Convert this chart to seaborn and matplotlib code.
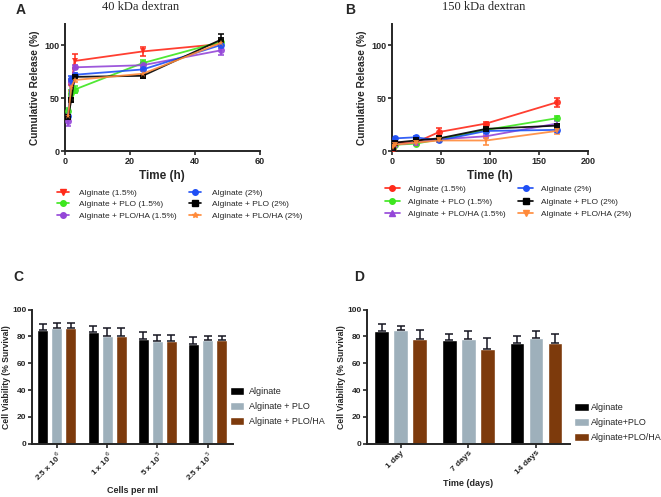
import numpy as np
import pandas as pd
import matplotlib
matplotlib.use('Agg')
import matplotlib.pyplot as plt
import seaborn as sns
from matplotlib.lines import Line2D
from matplotlib.patches import Patch

# ==============================================================================
# DATA
# ==============================================================================
series_names = ['Alginate (1.5%)', 'Alginate + PLO (1.5%)', 'Alginate + PLO/HA (1.5%)',
                'Alginate (2%)', 'Alginate + PLO (2%)', 'Alginate + PLO/HA (2%)']
series_colors = ['#ff2a1a', '#3de61e', '#9446d8', '#1f4ff5', '#000000', '#ff8a3a']

# panel A: 40 kDa dextran
time_a = [1, 2, 3, 24, 48]
rel_a = {
    'Alginate (1.5%)':          [32, 60, 85, 94, 101],
    'Alginate + PLO (1.5%)':    [38, 55, 58, 83, 103],
    'Alginate + PLO/HA (1.5%)': [28, 65, 79, 81, 95],
    'Alginate (2%)':            [33, 68, 72, 77, 100],
    'Alginate + PLO (2%)':      [32, 48, 70, 71, 105],
    'Alginate + PLO/HA (2%)':   [33, 60, 67, 73, 102],
}
err_a = {
    'Alginate (1.5%)':          [3, 6, 7, 4, 2],
    'Alginate + PLO (1.5%)':    [3, 3, 3, 3, 2],
    'Alginate + PLO/HA (1.5%)': [4, 3, 2, 3, 4],
    'Alginate (2%)':            [3, 3, 2, 6, 3],
    'Alginate + PLO (2%)':      [2, 2, 2, 2, 5],
    'Alginate + PLO/HA (2%)':   [2, 3, 2, 3, 3],
}
markers_a = ['v', 'o', 'o', 'o', 's', '*']

# panel B: 150 kDa dextran
time_b = [1, 3, 24, 48, 96, 168]
rel_b = {
    'Alginate (1.5%)':          [3, 8, 8, 18, 26, 46],
    'Alginate + PLO (1.5%)':    [4, 6, 7, 11, 20, 31],
    'Alginate + PLO/HA (1.5%)': [3, 6, 8, 11, 14, 26],
    'Alginate (2%)':            [9, 12, 13, 10, 19, 20],
    'Alginate + PLO (2%)':      [3, 8, 10, 12, 21, 24],
    'Alginate + PLO/HA (2%)':   [4, 6, 8, 10, 10, 19],
}
err_b = {
    'Alginate (1.5%)':          [1, 1, 1, 4, 1, 4],
    'Alginate + PLO (1.5%)':    [1, 1, 1, 1, 1, 2],
    'Alginate + PLO/HA (1.5%)': [1, 1, 1, 1, 1, 2],
    'Alginate (2%)':            [1, 1, 1, 1, 2, 2],
    'Alginate + PLO (2%)':      [1, 1, 1, 1, 1, 2],
    'Alginate + PLO/HA (2%)':   [1, 1, 1, 1, 4, 3],
}
markers_b = ['o', 'o', '^', 'o', 's', 'v']

# panel C: viability vs cell density
cells_c = ['2.5 x 10$^6$', '1 x 10$^6$', '5 x 10$^5$', '2.5 x 10$^5$']
groups_c = ['Alginate', 'Alginate + PLO', 'Alginate + PLO/HA']
via_c = [[85, 83.5, 78, 74.5],
         [86, 80, 76.5, 77],
         [86, 80, 76.5, 77]]
err_c = [[4.5, 4, 5, 5],
         [4, 6, 4.5, 3],
         [4, 6, 4.5, 3]]

# panel D: viability vs time
days_d = ['1 day', '7 days', '14 days']
groups_d = ['Alginate', 'Alginate+PLO', 'Alginate+PLO/HA']
via_d = [[84, 77, 75],
         [84.5, 78, 79],
         [78, 70.5, 75]]
err_d = [[5, 4.5, 5.5],
         [3, 6, 5],
         [6.5, 8, 7]]

bar_colors = ['#000000', '#9eb0bb', '#7d3a0c']

# ==============================================================================
# STYLE
# ==============================================================================
sns.set_style('ticks')
plt.rcParams['font.family'] = ['Liberation Sans', 'DejaVu Sans']
plt.rcParams['axes.linewidth'] = 1.4

fig = plt.figure(figsize=(6.61, 4.97), dpi=100)


def linea(ax, times, rel, err, markers, xmax, xticks):
    filas = []
    for nombre in series_names:
        for t, v in zip(times, rel[nombre]):
            filas.append({'time': t, 'release': v, 'series': nombre})
    df = pd.DataFrame(filas)
    pal = dict(zip(series_names, series_colors))
    mk = dict(zip(series_names, markers))
    for i, nombre in enumerate(series_names):
        ax.errorbar(times, rel[nombre], yerr=err[nombre], fmt='none',
                    ecolor=series_colors[i], elinewidth=1.1, capsize=2.5, capthick=1.1, zorder=2)
    sns.lineplot(data=df, x='time', y='release', hue='series', style='series',
                 palette=pal, markers=mk, dashes=False, ax=ax, legend=False,
                 linewidth=1.3, markersize=5, markeredgewidth=0, alpha=0.9, zorder=3)
    ax.set_xlim(0, xmax)
    ax.set_ylim(0, 120)
    ax.set_xticks(xticks)
    ax.set_yticks([0, 50, 100])
    ax.set_xlabel('Time (h)', fontsize=8.5, fontweight='bold', labelpad=3)
    ax.set_ylabel('Cumulative Release (%)', fontsize=7.3, fontweight='bold', labelpad=3)
    ax.tick_params(labelsize=6.5, width=1.2, length=3, pad=1)
    for lbl in ax.get_xticklabels() + ax.get_yticklabels():
        lbl.set_fontweight('bold')
    sns.despine(ax=ax)
    handles = [Line2D([0], [0], color=c, marker=m, markersize=4, linewidth=1.2)
               for c, m in zip(series_colors, markers)]
    return handles


def barras(ax, cats, groups, vals, errs, xlabel):
    filas = []
    for g, fila in zip(groups, vals):
        for c, v in zip(cats, fila):
            filas.append({'cat': c, 'val': v, 'grupo': g})
    df = pd.DataFrame(filas)
    sns.barplot(data=df, x='cat', y='val', hue='grupo', palette=bar_colors,
                errorbar=None, width=0.84, gap=0.22, ax=ax, legend=False, saturation=1)
    # barras de error (solo hacia arriba)
    n = len(cats)
    contenedores = list(ax.containers)
    for gi, patches in enumerate(contenedores):
        xs = [p.get_x() + p.get_width() / 2 for p in patches]
        ys = [p.get_height() for p in patches]
        e = errs[gi]
        ax.errorbar(xs, ys, yerr=[np.zeros(n), e], fmt='none', ecolor='#151520',
                    elinewidth=1.1, capsize=3, capthick=1.1)
    ax.set_ylim(0, 100)
    ax.set_yticks([0, 20, 40, 60, 80, 100])
    ax.set_xlim(-0.5, n - 0.5)
    ax.set_xlabel(xlabel, fontsize=6.5, fontweight='bold', labelpad=2)
    ax.set_ylabel('Cell Viability (% Survival)', fontsize=6.2, fontweight='bold', labelpad=0.5)
    ax.tick_params(labelsize=6, width=1.2, length=3, pad=1)
    for lbl in ax.get_yticklabels():
        lbl.set_fontweight('bold')
    for lbl in ax.get_xticklabels():
        lbl.set_fontweight('bold')
        lbl.set_rotation(45)
        lbl.set_ha('right')
        lbl.set_rotation_mode('anchor')
    sns.despine(ax=ax)
    return [Patch(facecolor=c) for c in bar_colors]


# ==============================================================================
# PANELS
# ==============================================================================
ax_a = fig.add_axes([0.098, 0.696, 0.295, 0.256])
h_a = linea(ax_a, time_a, rel_a, err_a, markers_a, 60, [0, 20, 40, 60])
ax_b = fig.add_axes([0.593, 0.696, 0.297, 0.256])
h_b = linea(ax_b, time_b, rel_b, err_b, markers_b, 200, [0, 50, 100, 150, 200])

fig.text(0.212, 0.986, '40 kDa dextran', fontsize=9, family='Liberation Serif', ha='center', va='center')
fig.text(0.731, 0.986, '150 kDa dextran', fontsize=9, family='Liberation Serif', ha='center', va='center')

fig.legend(h_a, series_names, loc='upper left', bbox_to_anchor=(0.086, 0.62), ncol=2,
           frameon=False, fontsize=6, handlelength=1.4, columnspacing=1.5,
           labelspacing=0.45, handletextpad=1.3, borderpad=0, borderaxespad=0)
fig.legend(h_b, series_names, loc='upper left', bbox_to_anchor=(0.582, 0.628), ncol=2,
           frameon=False, fontsize=6, handlelength=1.8, columnspacing=1.5,
           labelspacing=0.6, handletextpad=1.0, borderpad=0, borderaxespad=0)

ax_c = fig.add_axes([0.048, 0.107, 0.304, 0.27])
h_c = barras(ax_c, cells_c, groups_c, via_c, err_c, 'Cells per ml')
ax_d = fig.add_axes([0.555, 0.107, 0.307, 0.27])
h_d = barras(ax_d, days_d, groups_d, via_d, err_d, 'Time (days)')

fig.legend(h_c, groups_c, loc='upper left', bbox_to_anchor=(0.348, 0.222), frameon=False,
           fontsize=6.5, handlelength=1.6, handleheight=1.0, labelspacing=0.65,
           handletextpad=0.5, borderpad=0, borderaxespad=0)
fig.legend(h_d, groups_d, loc='upper left', bbox_to_anchor=(0.868, 0.19), frameon=False,
           fontsize=6.5, handlelength=1.7, handleheight=1.0, labelspacing=0.65,
           handletextpad=0.25, borderpad=0, borderaxespad=0)

for letra, x, y in [('A', 0.024, 0.994), ('B', 0.522, 0.994), ('C', 0.02, 0.457), ('D', 0.535, 0.457)]:
    fig.text(x, y, letra, fontsize=10, fontweight='bold', va='top')

fig.savefig('out.png', dpi=100)
